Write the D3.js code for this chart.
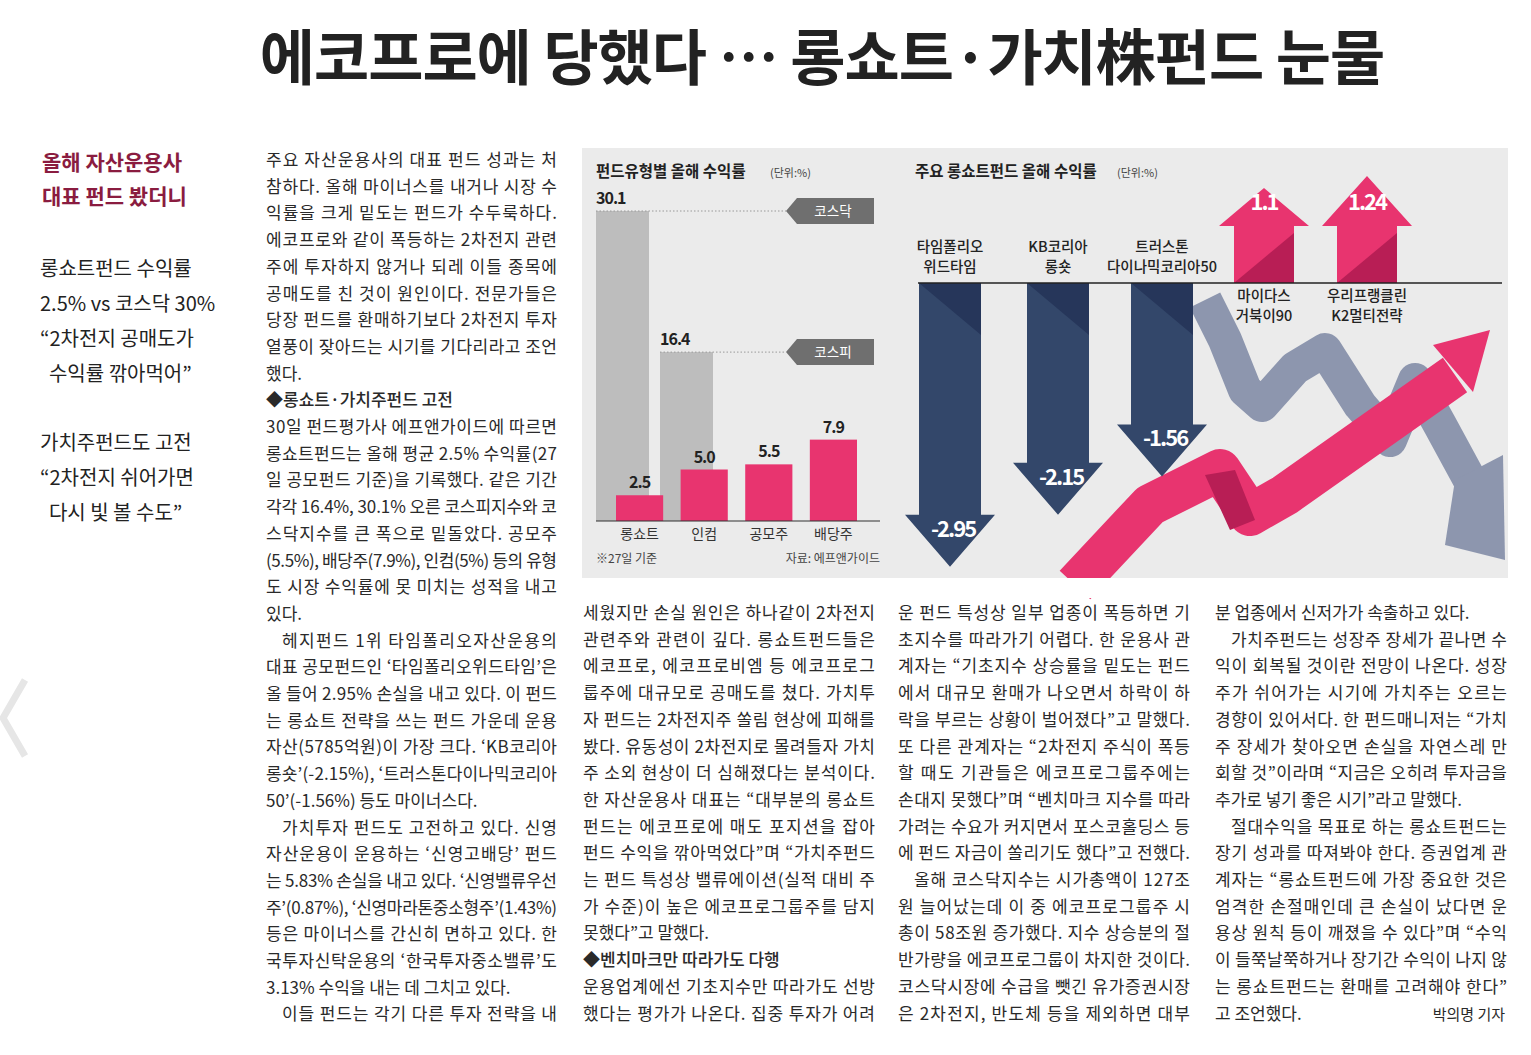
<!DOCTYPE html>
<html><head><meta charset="utf-8">
<script src="https://cdn.jsdelivr.net/npm/d3@7"></script>
<style>body{margin:0;background:#fff}svg{display:block}</style></head>
<body><svg id="c" width="1531" height="1055"></svg>
<script>
// ---- data ----
const fundTypes = ["롱쇼트","인컴","공모주","배당주"];
const fundReturns = [2.5,5.0,5.5,7.9];
const indexNames = ["코스닥","코스피"];
const indexReturns = [30.1,16.4];
const lsFunds = [["타임폴리오","위드타임"],["KB코리아","롱숏"],["트러스톤","다이나믹코리아50"],["마이다스","거북이90"],["우리프랭클린","K2멀티전략"]];
const lsReturns = [-2.95,-2.15,-1.56,1.1,1.24];

const col1 = ["주요 자산운용사의 대표 펀드 성과는 처","참하다. 올해 마이너스를 내거나 시장 수","익률을 크게 밑도는 펀드가 수두룩하다.","에코프로와 같이 폭등하는 2차전지 관련","주에 투자하지 않거나 되레 이들 종목에","공매도를 친 것이 원인이다. 전문가들은","당장 펀드를 환매하기보다 2차전지 투자","열풍이 잦아드는 시기를 기다리라고 조언","했다.~","◆롱쇼트·가치주펀드 고전~","30일 펀드평가사 에프앤가이드에 따르면","롱쇼트펀드는 올해 평균 2.5% 수익률(27","일 공모펀드 기준)을 기록했다. 같은 기간","각각 16.4%, 30.1% 오른 코스피지수와 코","스닥지수를 큰 폭으로 밑돌았다. 공모주","(5.5%), 배당주(7.9%), 인컴(5%) 등의 유형","도 시장 수익률에 못 미치는 성적을 내고","있다.~","  헤지펀드 1위 타임폴리오자산운용의","대표 공모펀드인 ‘타임폴리오위드타임’은","올 들어 2.95% 손실을 내고 있다. 이 펀드","는 롱쇼트 전략을 쓰는 펀드 가운데 운용","자산(5785억원)이 가장 크다. ‘KB코리아","롱숏’(-2.15%), ‘트러스톤다이나믹코리아","50’(-1.56%) 등도 마이너스다.~","  가치투자 펀드도 고전하고 있다. 신영","자산운용이 운용하는 ‘신영고배당’ 펀드","는 5.83% 손실을 내고 있다. ‘신영밸류우선","주’(0.87%), ‘신영마라톤중소형주’(1.43%)","등은 마이너스를 간신히 면하고 있다. 한","국투자신탁운용의 ‘한국투자중소밸류’도","3.13% 수익을 내는 데 그치고 있다.~","  이들 펀드는 각기 다른 투자 전략을 내"];
const col2 = ["세웠지만 손실 원인은 하나같이 2차전지","관련주와 관련이 깊다. 롱쇼트펀드들은","에코프로, 에코프로비엠 등 에코프로그","룹주에 대규모로 공매도를 쳤다. 가치투","자 펀드는 2차전지주 쏠림 현상에 피해를","봤다. 유동성이 2차전지로 몰려들자 가치","주 소외 현상이 더 심해졌다는 분석이다.","한 자산운용사 대표는 “대부분의 롱쇼트","펀드는 에코프로에 매도 포지션을 잡아","펀드 수익을 깎아먹었다”며 “가치주펀드","는 펀드 특성상 밸류에이션(실적 대비 주","가 수준)이 높은 에코프로그룹주를 담지","못했다”고 말했다.~","◆벤치마크만 따라가도 다행~","운용업계에선 기초지수만 따라가도 선방","했다는 평가가 나온다. 집중 투자가 어려"];
const col3 = ["운 펀드 특성상 일부 업종이 폭등하면 기","초지수를 따라가기 어렵다. 한 운용사 관","계자는 “기초지수 상승률을 밑도는 펀드","에서 대규모 환매가 나오면서 하락이 하","락을 부르는 상황이 벌어졌다”고 말했다.","또 다른 관계자는 “2차전지 주식이 폭등","할 때도 기관들은 에코프로그룹주에는","손대지 못했다”며 “벤치마크 지수를 따라","가려는 수요가 커지면서 포스코홀딩스 등","에 펀드 자금이 쏠리기도 했다”고 전했다.","  올해 코스닥지수는 시가총액이 127조","원 늘어났는데 이 중 에코프로그룹주 시","총이 58조원 증가했다. 지수 상승분의 절","반가량을 에코프로그룹이 차지한 것이다.","코스닥시장에 수급을 뺏긴 유가증권시장","은 2차전지, 반도체 등을 제외하면 대부"];
const col4 = ["분 업종에서 신저가가 속출하고 있다.~","  가치주펀드는 성장주 장세가 끝나면 수","익이 회복될 것이란 전망이 나온다. 성장","주가 쉬어가는 시기에 가치주는 오르는","경향이 있어서다. 한 펀드매니저는 “가치","주 장세가 찾아오면 손실을 자연스레 만","회할 것”이라며 “지금은 오히려 투자금을","추가로 넣기 좋은 시기”라고 말했다.~","  절대수익을 목표로 하는 롱쇼트펀드는","장기 성과를 따져봐야 한다. 증권업계 관","계자는 “롱쇼트펀드에 가장 중요한 것은","엄격한 손절매인데 큰 손실이 났다면 운","용상 원칙 등이 깨졌을 수 있다”며 “수익","이 들쭉날쭉하거나 장기간 수익이 나지 않","는 롱쇼트펀드는 환매를 고려해야 한다”","고 조언했다.~"];
const sideHead = ["올해 자산운용사","대표 펀드 봤더니"];
const sideLines = [["롱쇼트펀드 수익률","2.5% vs 코스닥 30%","“2차전지 공매도가","  수익률 깎아먹어”"],["가치주펀드도 고전","“2차전지 쉬어가면","  다시 빛 볼 수도”"]];

const F = "'Noto Sans CJK KR','Noto Sans',sans-serif";
const svg = d3.select("#c").style("font-family",F);

svg.append("text").attr("x",822).attr("y",80).attr("text-anchor","middle")
  .attr("font-size",60).attr("font-weight",700).attr("fill","#222").attr("letter-spacing",-1)
  .text("에코프로에 당했다 … 롱쇼트·가치株펀드 눈물");

svg.append("path").attr("d","M25,680 L3,718 L25,756").attr("fill","none").attr("stroke","#e6e6e6").attr("stroke-width",7);
sideHead.forEach((t,i)=>svg.append("text").attr("x",42).attr("y",170+i*34).attr("font-size",21).attr("font-weight",700).attr("fill","#8a1c40").text(t));
sideLines.forEach((g,gi)=>g.forEach((t,i)=>svg.append("text").attr("x",40).attr("y",[276,450][gi]+i*35).attr("font-size",20).attr("fill","#222").attr("xml:space","preserve").text(t)));

function column(lines,x0,y0,w){
  lines.forEach((l,i)=>{
    let noJ = l.endsWith("~"); let t = noJ? l.slice(0,-1):l;
    let ind = t.startsWith("  ")?16:0; t=t.trim();
    const bold = t.startsWith("◆");
    const el = svg.append("text").attr("x",x0+ind).attr("y",y0+i*26.7).attr("font-size",17).attr("fill","#2a2a2a").text(t);
    if(bold) el.attr("font-weight",500);
    if(!noJ) el.attr("textLength",w-ind).attr("lengthAdjust","spacing");
  });
}
column(col1,266,166,291);
column(col2,583,619,292);
column(col3,898,619,292);
column(col4,1215,619,292);
svg.append("text").attr("x",1505).attr("y",619+15*26.7).attr("text-anchor","end").attr("font-size",15).attr("fill","#2a2a2a").text("박의명 기자");

svg.append("rect").attr("x",582).attr("y",148).attr("width",926).attr("height",430).attr("fill","#ebebeb");

// ---- left chart ----
const base = 521;
const y = d3.scaleLinear().domain([0,30.1]).range([base,211]);
svg.append("text").attr("x",596).attr("y",177).attr("font-size",15.5).attr("font-weight",700).attr("fill","#222").text("펀드유형별 올해 수익률");
svg.append("text").attr("x",770).attr("y",177).attr("font-size",11).attr("fill","#444").text("(단위:%)");
const ix = [596,660], iw=53;
indexReturns.forEach((v,i)=>{
  svg.append("rect").attr("x",ix[i]).attr("y",y(v)).attr("width",iw).attr("height",base-y(v)).attr("fill","#bdbdbd");
  svg.append("line").attr("x1",ix[i]).attr("x2",786).attr("y1",y(v)).attr("y2",y(v)).attr("stroke","#999").attr("stroke-dasharray","1.5,2");
  svg.append("text").attr("x",ix[i]).attr("y",y(v)-7).attr("font-size",16).attr("font-weight",700).attr("fill","#222").attr("letter-spacing",-1).text(v.toFixed(1));
  const ty=y(v);
  svg.append("path").attr("d",`M786,${ty} L797,${ty-13} L874,${ty-13} L874,${ty+13} L797,${ty+13} Z`).attr("fill","#6f6f6f");
  svg.append("text").attr("x",833).attr("y",ty+5).attr("text-anchor","middle").attr("font-size",13.5).attr("fill","#fff").text(indexNames[i]);
});
const bx = d3.scaleBand().domain(fundTypes).range([616,857]).paddingInner(0.27).paddingOuter(0);
fundTypes.forEach((c,i)=>{
  const v=fundReturns[i], cx=bx(c)+bx.bandwidth()/2;
  svg.append("rect").attr("x",bx(c)).attr("y",y(v)).attr("width",bx.bandwidth()).attr("height",base-y(v)).attr("fill","#e8346f");
  svg.append("text").attr("x",cx).attr("y",y(v)-7).attr("text-anchor","middle").attr("font-size",16).attr("font-weight",700).attr("fill","#222").attr("letter-spacing",-1).text(v.toFixed(1));
  svg.append("text").attr("x",cx).attr("y",539).attr("text-anchor","middle").attr("font-size",14).attr("fill","#333").text(c);
});
svg.append("line").attr("x1",596).attr("x2",880).attr("y1",base).attr("y2",base).attr("stroke","#333").attr("stroke-width",1.2);
svg.append("text").attr("x",596).attr("y",563).attr("font-size",12).attr("fill","#444").text("※27일 기준");
svg.append("text").attr("x",880).attr("y",563).attr("text-anchor","end").attr("font-size",12).attr("fill","#444").text("자료: 에프앤가이드");

// ---- right chart ----
svg.append("text").attr("x",915).attr("y",177).attr("font-size",15.5).attr("font-weight",700).attr("fill","#222").text("주요 롱쇼트펀드 올해 수익률");
svg.append("text").attr("x",1117).attr("y",177).attr("font-size",11).attr("fill","#444").text("(단위:%)");

const dg = svg.append("g");
dg.append("path").attr("d","M1205,300 L1225,340 L1245,390 L1262,405 L1295,368 L1325,350 L1360,405 L1390,440 L1415,380 L1440,425 L1478,495")
  .attr("fill","none").attr("stroke","#8d96ae").attr("stroke-width",34).attr("stroke-linejoin","round");
dg.append("path").attr("d","M1455,480 L1503,455 L1505,560 L1445,545 Z").attr("fill","#8d96ae");
dg.append("path").attr("d","M1075,585 L1150,505 L1220,470 L1250,515 L1285,495 L1455,375")
  .attr("fill","none").attr("stroke","#e8346f").attr("stroke-width",42).attr("stroke-linejoin","round");
dg.append("path").attr("d","M1433,345 L1490,330 L1473,392 Z").attr("fill","#e8346f");
dg.append("path").attr("d","M1205,475 L1235,470 L1255,520 L1230,530 Z").attr("fill","#b81e55");
svg.append("rect").attr("x",1060).attr("y",578).attr("width",460).attr("height",20).attr("fill","#fff");

const ab = 283;
const yd = d3.scaleLinear().domain([-1,-3]).range([440,570]);
const yu = d3.scaleLinear().domain([0,1.24]).range([ab,176]);
const xc = [950,1058,1162,1264,1367];
lsReturns.forEach((v,i)=>{
  const cx = xc[i];
  if(v<0){
    const tip = yd(v);
    const hb = tip-52, sw=31, hw=45;
    svg.append("path").attr("d",`M${cx-sw},${ab} L${cx+sw},${ab} L${cx+sw},${hb} L${cx+hw},${hb} L${cx},${tip} L${cx-hw},${hb} L${cx-sw},${hb} Z`).attr("fill","#33476a");
    svg.append("path").attr("d",`M${cx-sw},${ab} L${cx+sw},${ab} L${cx+sw},${ab+52} Z`).attr("fill","#26365a");
    svg.append("text").attr("x",cx+3).attr("y",hb+22).attr("text-anchor","middle").attr("font-size",22).attr("font-weight",700).attr("fill","#fff").attr("letter-spacing",-2).text(v.toFixed(2));
    lsFunds[i].forEach((t,k)=>svg.append("text").attr("x",cx).attr("y",252+k*20).attr("text-anchor","middle").attr("font-size",14.5).attr("font-weight",500).attr("fill","#222").text(t));
  } else {
    const tip = yu(v), hb=226, sw=30, hw=45;
    svg.append("path").attr("d",`M${cx-sw},${ab} L${cx+sw},${ab} L${cx+sw},${hb} L${cx+hw},${hb} L${cx},${tip} L${cx-hw},${hb} L${cx-sw},${hb} Z`).attr("fill","#e8346f");
    svg.append("path").attr("d",`M${cx-sw},${ab} L${cx+sw},${ab} L${cx+sw},${ab-50} Z`).attr("fill","#b81e55");
    svg.append("text").attr("x",cx).attr("y",210).attr("text-anchor","middle").attr("font-size",22).attr("font-weight",700).attr("fill","#fff").attr("letter-spacing",-2).text(v);
    lsFunds[i].forEach((t,k)=>svg.append("text").attr("x",cx).attr("y",301+k*20).attr("text-anchor","middle").attr("font-size",14.5).attr("font-weight",500).attr("fill","#222").text(t));
  }
});
svg.append("line").attr("x1",918).attr("x2",1502).attr("y1",ab).attr("y2",ab).attr("stroke","#222").attr("stroke-width",1.5);
</script></body></html>
